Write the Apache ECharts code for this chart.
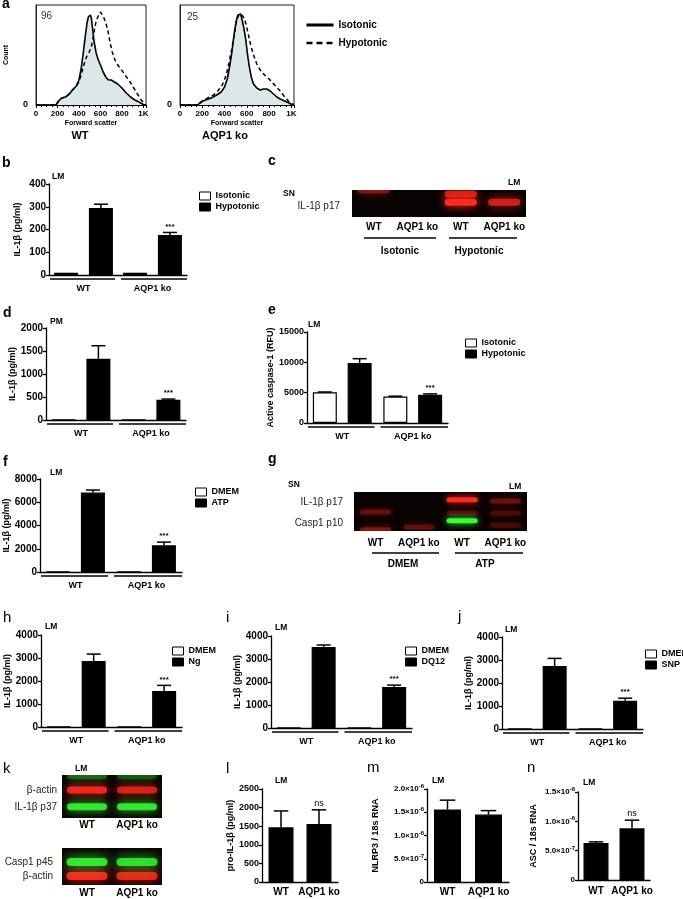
<!DOCTYPE html>
<html>
<head>
<meta charset="utf-8">
<title>AQP1 figure</title>
<script src="https://cdn.jsdelivr.net/npm/echarts@6.0.0/dist/echarts.min.js"></script>
<style>
  html, body { margin: 0; padding: 0; background: #fff; }
  .pane { position: absolute; left: 0; top: 0; width: 683px; height: 899px; }
</style>
</head>
<body>
<div id="histo" class="pane"></div>
<div id="main" class="pane"></div>
<script>
var FONT = '"Liberation Sans", Arial, Helvetica, sans-serif';
function font(w, s) { return w + ' ' + s + 'px ' + FONT; }

// a: forward scatter histograms [FSC, count in % of max]
var aWtIso = [[0,0],[185,0],[210,4],[240,7],[275,8],[310,11],[340,15],[375,19],[400,25],[420,36],[440,52],[460,70],[475,82],[487,88],[497,86],[506,90],[515,87],[525,78],[540,64],[560,52],[580,45],[600,40],[625,33],[650,28],[675,25],[700,25],[730,23],[760,21],[800,17],[840,12],[880,8],[920,5],[960,3],[990,1],[1010,0],[1024,0]];
var aWtHypo = [[0,0],[185,0],[210,4],[240,7],[275,8],[310,11],[340,15],[375,19],[400,23],[420,30],[445,40],[470,48],[495,53],[515,58],[530,66],[545,76],[560,84],[575,88],[585,86],[600,93],[615,92],[630,88],[650,82],[670,74],[690,62],[710,53],[735,45],[760,40],[790,36],[830,30],[870,24],[910,17],[950,10],[980,5],[1010,1],[1024,0]];
var aKoIso = [[0,0],[160,0],[185,3],[230,5],[280,7],[330,10],[370,13],[400,18],[425,26],[445,38],[465,52],[485,70],[505,84],[520,90],[530,88],[545,91],[560,84],[575,76],[590,66],[605,52],[620,40],[640,28],[660,21],[690,17],[720,15],[750,16],[780,16],[810,14],[840,11],[870,8],[900,6],[940,4],[980,2],[1010,0],[1024,0]];
var aKoHypo = [[0,0],[170,0],[200,4],[250,7],[300,10],[340,14],[380,20],[415,30],[440,42],[465,56],[490,72],[510,85],[530,91],[540,93],[555,90],[575,87],[595,80],[615,70],[635,60],[660,50],[690,41],[720,35],[760,30],[800,26],[850,20],[900,14],[940,8],[975,4],[1010,1],[1024,0]];
var aPercent = ['96', '25'];
var aTitles = ['WT', 'AQP1 ko'];

var groups = ['WT', 'AQP1 ko'];

// b: IL-1b LM, hypotonic
var bIso = [10, 10], bIsoErr = [0, 0];
var bHypo = [295, 176], bHypoErr = [16, 11];
var bSig = ['', '***'];
// d: IL-1b PM
var dIso = [6, 5], dIsoErr = [0, 0];
var dHypo = [1330, 440], dHypoErr = [285, 15];
var dSig = ['', '***'];
// e: active caspase-1
var eIso = [5050, 4350], eIsoErr = [60, 70];
var eHypo = [9900, 4650], eHypoErr = [700, 150];
var eSig = ['', '***'];
// f: ATP
var fDmem = [25, 20], fDmemErr = [0, 0];
var fAtp = [6830, 2300], fAtpErr = [220, 270];
var fSig = ['', '***'];
// h: nigericin
var hDmem = [20, 15], hDmemErr = [0, 0];
var hNg = [2870, 1560], hNgErr = [300, 250];
var hSig = ['', '***'];
// i: DQ12
var iDmem = [20, 15], iDmemErr = [0, 0];
var iDq = [3520, 1780], iDqErr = [90, 85];
var iSig = ['', '***'];
// j: SNP
var jDmem = [15, 15], jDmemErr = [0, 0];
var jSnp = [2740, 1230], jSnpErr = [330, 110];
var jSig = ['', '***'];
// l, m, n
var lPro = [1470, 1560], lProErr = [440, 380], lSig = ['', 'ns'];
var mNlrp = [1.56e-6, 1.45e-6], mNlrpErr = [0.2e-6, 0.085e-6], mSig = ['', ''];
var nAsc = [6.3e-7, 8.8e-7], nAscErr = [0.2e-7, 1.4e-7], nSig = ['', 'ns'];

// western blots: [lane, relative migration (0 top .. 1 bottom), intensity]
var lanesC = ['WT', 'AQP1 ko', 'WT', 'AQP1 ko'];
var cRed = [[0, 0.0, 0.4], [2, 0.16, 0.75], [2, 0.45, 1], [3, 0.45, 0.7]];
var lanesG = ['WT', 'AQP1 ko', 'WT', 'AQP1 ko'];
var gRed = [[0, 0.51, 0.3], [0, 0.97, 0.4], [1, 0.9, 0.28], [2, 0.2, 1], [2, 0.54, 0.22], [3, 0.23, 0.3], [3, 0.54, 0.2], [3, 0.85, 0.18]];
var gGreen = [[2, 0.74, 1]];
var lanesK = ['WT', 'AQP1 ko'];
var kTopRed = [[0, 0.35, 0.9], [1, 0.35, 0.75]];
var kTopGreen = [[0, 0.74, 0.85], [1, 0.74, 0.85], [0, 0.02, 0.3], [1, 0.02, 0.25]];
var kBotGreen = [[0, 0.38, 0.85], [1, 0.38, 0.8]];
var kBotRed = [[0, 0.76, 0.95], [1, 0.76, 0.85]];

// ---------- panel a ----------
var histo = echarts.init(document.getElementById('histo'));
var aGrids = [[36, 5, 110, 100], [180, 5, 114, 100]];
var aData = [[aWtIso, aWtHypo], [aKoIso, aKoHypo]];
var optA = {
  animation: false,
  grid: aGrids.map(function (g) {
    return { left: g[0], top: g[1], width: g[2], height: g[3], show: true, borderColor: '#222', borderWidth: 1, outerBoundsMode: 'none' };
  }),
  xAxis: aGrids.map(function (g, i) {
    return {
      gridIndex: i, type: 'value', min: 0, max: 1024, interval: 200,
      name: 'Forward scatter', nameLocation: 'middle', nameGap: 15,
      nameTextStyle: { color: '#000', fontWeight: 'bold', fontSize: 7, fontFamily: FONT },
      axisLine: { lineStyle: { color: '#000', width: 1.2 } },
      axisTick: { length: 3, lineStyle: { color: '#000' } },
      minorTick: { show: true, splitNumber: 4, length: 2, lineStyle: { color: '#000' } },
      axisLabel: { margin: 5, color: '#000', fontWeight: 'bold', fontSize: 8, fontFamily: FONT,
        formatter: function (v) { return v === 1000 ? '1K' : (v > 1000 ? '' : String(v)); } },
      splitLine: { show: false }, minorSplitLine: { show: false }
    };
  }),
  yAxis: aGrids.map(function (g, i) {
    return {
      gridIndex: i, type: 'value', min: 0, max: 100,
      name: i === 0 ? 'Count' : '', nameLocation: 'middle', nameRotate: 90, nameGap: 26,
      nameTextStyle: { color: '#000', fontWeight: 'bold', fontSize: 7, fontFamily: FONT },
      axisLine: { show: true, lineStyle: { color: '#222' } },
      axisTick: { show: false },
      axisLabel: { margin: 8, color: '#000', fontWeight: 'bold', fontSize: 9, fontFamily: FONT,
        formatter: function (v) { return v === 0 ? '0' : ''; } },
      splitLine: { show: false }
    };
  }),
  legend: {
    left: 300, top: 15, orient: 'vertical', itemWidth: 27, itemHeight: 10, itemGap: 8, selectedMode: false,
    data: [
      { name: 'Isotonic', lineStyle: { width: 3, color: '#000' }, itemStyle: { opacity: 0 } },
      { name: 'Hypotonic', lineStyle: { width: 2.5, type: [6, 4], color: '#000' }, itemStyle: { opacity: 0 } }
    ],
    textStyle: { color: '#000', fontWeight: 'bold', fontSize: 10, fontFamily: FONT }
  },
  series: [],
  graphic: { elements: [] }
};
aData.forEach(function (d, i) {
  optA.series.push({ type: 'line', name: 'Isotonic area', xAxisIndex: i, yAxisIndex: i, data: d[0], symbol: 'none', color: '#000',
    lineStyle: { width: 0 }, areaStyle: { color: '#dbe7e9', opacity: 1 }, z: 1 });
  optA.series.push({ type: 'line', name: 'Hypotonic', xAxisIndex: i, yAxisIndex: i, data: d[1], symbol: 'none', color: '#000',
    lineStyle: { width: 1.5, color: '#000', type: [4, 3] }, z: 2 });
  optA.series.push({ type: 'line', name: 'Isotonic', xAxisIndex: i, yAxisIndex: i, data: d[0], symbol: 'none', color: '#000',
    lineStyle: { width: 1.6, color: '#000' }, z: 3 });
});
var aTexts = [
  ['a', 2, 4, font('bold', 14), 'left', '#000'],
  [aPercent[0], 41, 16, font('normal', 10), 'left', '#333'],
  [aPercent[1], 187, 17, font('normal', 10), 'left', '#333'],
  [aTitles[0], 80, 136, font('bold', 11), 'center', '#000'],
  [aTitles[1], 225, 136, font('bold', 11), 'center', '#000']
];
aTexts.forEach(function (t) {
  optA.graphic.elements.push({ type: 'text', x: t[1], y: t[2],
    style: { text: t[0], font: t[3], fill: t[5], align: t[4], textAlign: t[4], verticalAlign: 'middle', textVerticalAlign: 'middle' } });
});
histo.setOption(optA);

// ---------- other panels ----------
var main = echarts.init(document.getElementById('main'));
var option = { animation: false, grid: [], xAxis: [], yAxis: [], series: [], legend: [], graphic: { elements: [] } };

function errSeries(gi, vals, errs, marks, offset, half) {
  return {
    type: 'custom', xAxisIndex: gi, yAxisIndex: gi, z: 5, encode: { x: 0, y: 1 },
    data: vals.map(function (v, i) { return [i, v, errs[i]]; }),
    renderItem: function (params, api) {
      var base = api.coord([api.value(0), api.value(1)]);
      var top = api.coord([api.value(0), api.value(1) + api.value(2)]);
      var x = base[0] + offset;
      var kids = [];
      if (api.value(2) > 0) {
        kids.push({ type: 'line', shape: { x1: x, y1: base[1], x2: x, y2: top[1] }, style: { stroke: '#000', lineWidth: 1.5 } });
        kids.push({ type: 'line', shape: { x1: x - half, y1: top[1], x2: x + half, y2: top[1] }, style: { stroke: '#000', lineWidth: 1.5 } });
      }
      var m = marks && marks[params.dataIndex];
      if (m) {
        kids.push({ type: 'text', style: { x: x, y: top[1] - 2, text: m, align: 'center', textAlign: 'center',
          verticalAlign: 'bottom', textVerticalAlign: 'bottom',
          font: m === 'ns' ? font('normal', 9) : font('bold', 8), fill: '#000' } });
      }
      return { type: 'group', children: kids };
    }
  };
}

function plain(v) { return String(v); }

function barPanel(p) {
  var gi = option.grid.length;
  option.grid.push({ left: p.left, top: p.top, width: p.width, height: p.height, outerBoundsMode: 'none' });
  option.xAxis.push({
    gridIndex: gi, type: 'category', data: groups,
    axisLine: { lineStyle: { color: '#000', width: 1.3 } }, axisTick: { show: false },
    axisLabel: { margin: p.lm || 9, color: '#000', fontWeight: 'bold', fontSize: p.xfs || 9, fontFamily: FONT, interval: 0 }
  });
  option.yAxis.push({
    gridIndex: gi, type: 'value', min: 0, max: p.max, interval: p.interval,
    name: p.yName, nameLocation: 'middle', nameRotate: 90, nameGap: p.nameGap,
    nameTextStyle: { color: '#000', fontWeight: 'bold', fontSize: 9, fontFamily: FONT },
    axisLine: { show: true, lineStyle: { color: '#000', width: 1.3 } },
    axisTick: { show: true, length: 3, lineStyle: { color: '#000', width: 1.3 } },
    axisLabel: { margin: 3, color: '#000', fontWeight: 'bold', fontSize: p.yfs || 10, fontFamily: FONT,
      formatter: p.fmt || plain, rich: p.rich },
    splitLine: { show: false }
  });
  var bw = p.barWidth || 24;
  var n = p.sets.length;
  p.sets.forEach(function (s, k) {
    option.series.push({
      type: 'bar', name: s.name, xAxisIndex: gi, yAxisIndex: gi, data: s.vals, barWidth: bw, barGap: '45%',
      color: s.fill, itemStyle: { color: s.fill, borderColor: '#000', borderWidth: 1.2 }
    });
    var off = n === 2 ? (k === 0 ? -1 : 1) * bw * 1.45 / 2 : 0;
    option.series.push(errSeries(gi, s.vals, s.errs, s.marks, off, bw / 4 + 1));
  });
  if (p.legend) {
    option.legend.push({
      left: p.legend[0], top: p.legend[1], orient: 'vertical', itemWidth: 11, itemHeight: 8, itemGap: 1,
      icon: 'rect', selectedMode: false, data: p.sets.map(function (s) { return s.name; }),
      itemStyle: { borderColor: '#000', borderWidth: 1 },
      textStyle: { color: '#000', fontWeight: 'bold', fontSize: 9, lineHeight: 10, fontFamily: FONT }
    });
  }
  if (p.underline) {
    var cw = p.width / 2, y = p.top + p.height + 4;
    for (var i = 0; i < 2; i++) {
      option.graphic.elements.push({ type: 'line',
        shape: { x1: p.left + i * cw + (i ? 3 : 1), y1: y, x2: p.left + (i + 1) * cw - (i ? 0 : 3), y2: y },
        style: { stroke: '#000', lineWidth: 1.3 } });
    }
  }
}

function bandSeries(gi, data, color, thick, frac) {
  return {
    type: 'custom', xAxisIndex: gi, yAxisIndex: gi, clip: true, encode: { x: 0, y: 1 }, data: data,
    renderItem: function (params, api) {
      var c = api.coord([api.value(0), api.value(1)]);
      var w = api.size([1, 0])[0] * frac;
      return { type: 'rect', shape: { x: c[0] - w / 2, y: c[1] - thick / 2, width: w, height: thick, r: thick / 2 },
        style: { fill: color, opacity: api.value(2), shadowBlur: thick * 1.4, shadowColor: color } };
    }
  };
}

function blotPanel(p) {
  var gi = option.grid.length;
  option.grid.push({ left: p.left, top: p.top, width: p.width, height: p.height, show: true,
    backgroundColor: '#090202', borderWidth: 0, outerBoundsMode: 'none' });
  option.xAxis.push({ gridIndex: gi, type: 'category', data: p.lanes,
    axisLine: { show: false }, axisTick: { show: false },
    axisLabel: { margin: p.lm, color: '#000', fontWeight: 'bold', fontSize: 10, fontFamily: FONT, interval: 0 } });
  option.yAxis.push({ gridIndex: gi, type: 'value', min: 0, max: 1, inverse: true, show: false });
  option.series.push(bandSeries(gi, p.red, '#ff2a1c', p.thick, p.frac));
  if (p.green.length) option.series.push(bandSeries(gi, p.green, '#35ff35', p.thick, p.frac));
}

var hypoSets = function (iso, isoErr, hyp, hypErr, sig, n1, n2) {
  return [{ name: n1, fill: '#fff', vals: iso, errs: isoErr }, { name: n2, fill: '#000', vals: hyp, errs: hypErr, marks: sig }];
};

function sci(v) {
  if (v === 0) return '0';
  var e = Math.floor(Math.log10(v) + 1e-6);
  return (v / Math.pow(10, e)).toFixed(1) + '×10{s|' + e + '}';
}
var sciRich = { s: { fontSize: 6, fontWeight: 'bold', fontFamily: FONT, color: '#000', verticalAlign: 'top', padding: [0, 0, 5, 0] } };

barPanel({ left: 49, top: 184, width: 138, height: 91, max: 400, interval: 100, yName: 'IL-1β (pg/ml)', nameGap: 27,
  sets: hypoSets(bIso, bIsoErr, bHypo, bHypoErr, bSig, 'Isotonic', 'Hypotonic'), legend: [194, 186], underline: true });
barPanel({ left: 46, top: 328, width: 140, height: 92, max: 2000, interval: 500, yName: 'IL-1β (pg/ml)', nameGap: 29,
  sets: hypoSets(dIso, dIsoErr, dHypo, dHypoErr, dSig, 'Isotonic', 'Hypotonic'), underline: true });
barPanel({ left: 307, top: 332, width: 141, height: 91, max: 15000, interval: 5000, yfs: 9, yName: 'Active caspase-1 (RFU)', nameGap: 30,
  sets: hypoSets(eIso, eIsoErr, eHypo, eHypoErr, eSig, 'Isotonic', 'Hypotonic'), legend: [460, 333], underline: true });
barPanel({ left: 40, top: 479, width: 142, height: 93, max: 8000, interval: 2000, yName: 'IL-1β (pg/ml)', nameGap: 27,
  sets: hypoSets(fDmem, fDmemErr, fAtp, fAtpErr, fSig, 'DMEM', 'ATP'), legend: [190, 482], underline: true });
barPanel({ left: 41, top: 635, width: 141, height: 92, max: 4000, interval: 1000, yName: 'IL-1β (pg/ml)', nameGap: 29,
  sets: hypoSets(hDmem, hDmemErr, hNg, hNgErr, hSig, 'DMEM', 'Ng'), legend: [167, 641], underline: true });
barPanel({ left: 271, top: 636, width: 141, height: 92, max: 4000, interval: 1000, yName: 'IL-1β (pg/ml)', nameGap: 29,
  sets: hypoSets(iDmem, iDmemErr, iDq, iDqErr, iSig, 'DMEM', 'DQ12'), legend: [400, 641], underline: true });
barPanel({ left: 502, top: 637, width: 141, height: 92, max: 4000, interval: 1000, yName: 'IL-1β (pg/ml)', nameGap: 29,
  sets: hypoSets(jDmem, jDmemErr, jSnp, jSnpErr, jSig, 'DMEM', 'SNP'), legend: [640, 644], underline: true });
barPanel({ left: 262, top: 789, width: 76, height: 93, max: 2500, interval: 500, yfs: 9, yName: 'pro-IL-1β (pg/ml)', nameGap: 27,
  barWidth: 25, lm: 5, xfs: 10, sets: [{ name: 'pro-IL-1β', fill: '#000', vals: lPro, errs: lProErr, marks: lSig }] });
barPanel({ left: 427, top: 789, width: 82, height: 93, max: 2e-6, interval: 5e-7, yfs: 8, fmt: sci, rich: sciRich,
  yName: 'NLRP3 / 18s RNA', nameGap: 47, barWidth: 27, lm: 5, xfs: 10,
  sets: [{ name: 'NLRP3', fill: '#000', vals: mNlrp, errs: mNlrpErr, marks: mSig }] });
barPanel({ left: 578, top: 792, width: 72, height: 88, max: 1.5e-6, interval: 5e-7, yfs: 8, fmt: sci, rich: sciRich,
  yName: 'ASC / 18s RNA', nameGap: 40, barWidth: 25, lm: 6, xfs: 10,
  sets: [{ name: 'ASC', fill: '#000', vals: nAsc, errs: nAscErr, marks: nSig }] });

blotPanel({ left: 352, top: 190, width: 174, height: 27, lanes: lanesC, red: cRed, green: [], thick: 7, frac: 0.74, lm: 5 });
blotPanel({ left: 354, top: 492, width: 173, height: 39, lanes: lanesG, red: gRed, green: gGreen, thick: 5, frac: 0.72, lm: 7 });
blotPanel({ left: 62, top: 775, width: 100, height: 43, lanes: lanesK, red: kTopRed, green: kTopGreen, thick: 7, frac: 0.8, lm: 2 });
blotPanel({ left: 62, top: 848, width: 100, height: 37, lanes: lanesK, red: kBotRed, green: kBotGreen, thick: 8, frac: 0.82, lm: 3 });

// blot group underlines
[[364, 436, 238], [449, 517, 238], [372, 439, 553], [455, 523, 553]].forEach(function (l) {
  option.graphic.elements.push({ type: 'line', shape: { x1: l[0], y1: l[2], x2: l[1], y2: l[2] }, style: { stroke: '#000', lineWidth: 1.3 } });
});

var B14 = font('bold', 14), N15 = font('normal', 15), S8 = font('bold', 8.5), R10 = font('normal', 10), B10 = font('bold', 10);
var texts = [
  ['b', 2, 163, B14, 'left'], ['c', 268, 161, B14, 'left'], ['d', 3, 313, B14, 'left'], ['e', 268, 310, B14, 'left'],
  ['f', 3, 462, B14, 'left'], ['g', 268, 459, B14, 'left'], ['h', 3, 618, N15, 'left'], ['i', 226, 618, N15, 'left'],
  ['j', 458, 617, N15, 'left'], ['k', 3, 769, N15, 'left'], ['l', 226, 769, N15, 'left'], ['m', 367, 768, N15, 'left'],
  ['n', 527, 768, N15, 'left'],
  ['LM', 52, 177, S8, 'left'], ['SN', 283, 194, S8, 'left'], ['LM', 508, 183, S8, 'left'], ['PM', 50, 322, S8, 'left'],
  ['LM', 308, 325, S8, 'left'], ['LM', 50, 473, S8, 'left'], ['SN', 288, 485, S8, 'left'], ['LM', 509, 487, S8, 'left'],
  ['LM', 45, 627, S8, 'left'], ['LM', 275, 628, S8, 'left'], ['LM', 505, 630, S8, 'left'], ['LM', 75, 769, S8, 'left'],
  ['LM', 275, 781, S8, 'left'], ['LM', 432, 781, S8, 'left'], ['LM', 583, 783, S8, 'left'],
  ['IL-1β p17', 340, 206, R10, 'right'], ['IL-1β p17', 343, 502, R10, 'right'], ['Casp1 p10', 343, 523, R10, 'right'],
  ['β-actin', 57, 790, R10, 'right'], ['IL-1β p37', 57, 807, R10, 'right'],
  ['Casp1 p45', 53, 862, R10, 'right'], ['β-actin', 53, 876, R10, 'right'],
  ['Isotonic', 400, 251, B10, 'center'], ['Hypotonic', 479, 251, B10, 'center'],
  ['DMEM', 403, 564, B10, 'center'], ['ATP', 485, 564, B10, 'center']
];
texts.forEach(function (t) {
  option.graphic.elements.push({ type: 'text', x: t[1], y: t[2],
    style: { text: t[0], font: t[3], fill: t[3] === R10 ? '#222' : '#000', align: t[4], textAlign: t[4],
      verticalAlign: 'middle', textVerticalAlign: 'middle' } });
});

main.setOption(option);
</script>
</body>
</html>
